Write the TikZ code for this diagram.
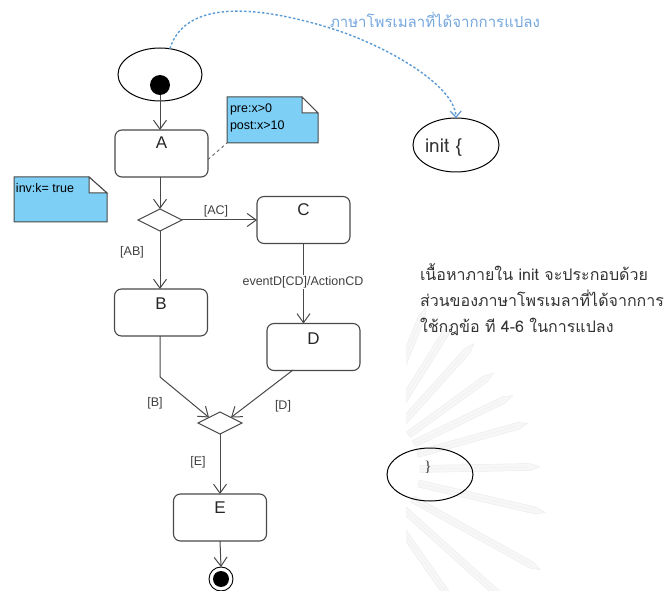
\documentclass[tikz,border=0pt]{standalone}
\usepackage{fontspec}
\setmainfont{Liberation Sans}
\newfontfamily\thaifont[Script=Thai]{Loma}
\newfontfamily\bracefont{Liberation Serif}
\usetikzlibrary{arrows.meta,shapes.geometric,calc}

\definecolor{linegray}{RGB}{72,72,72}
\definecolor{notefill}{RGB}{125,207,245}
\definecolor{linkblue}{RGB}{91,155,213}
\definecolor{textblue}{RGB}{116,166,222}

\begin{document}
\begin{tikzpicture}[x=1pt,y=-1pt,
  every node/.style={inner sep=0pt,outer sep=0pt},
  state/.style={draw=linegray,line width=1.1pt,rounded corners=7pt,
    minimum width=93pt,minimum height=47pt},
  statelbl/.style={font=\fontsize{17}{17}\selectfont,text=black!85},
  guard/.style={font=\fontsize{12.5}{13}\selectfont,text=black!75},
  notetxt/.style={font=\fontsize{12.5}{13}\selectfont,text=black,anchor=west},
  flow/.style={draw=linegray,line width=1pt,
    -{Straight Barb[length=9pt,width=13pt,line width=1pt]}},
  choice/.style={draw=linegray,line width=1pt,diamond,
    minimum width=44pt,minimum height=22pt},
  oval/.style={draw=black,line width=1pt,ellipse},
  notebox/.style={fill=notefill,draw=linegray,line width=1pt},
  thaitxt/.style={font=\thaifont\fontsize{16}{26}\selectfont,text=black!80,anchor=base west},
  ray/.style={fill=black!3,draw=black!7,line width=0.5pt}
]
\useasboundingbox (0,0) rectangle (665,591);

% faint emblem rays in the page background
\begin{scope}
  \clip (406,250) rectangle (665,591);
  \foreach \a/\L in {68/175,58/172,48/170,36/165,26/170,15.6/174,1/180,-13/190,-29/206,-42/215,-55/220}{
    \begin{scope}[shift={(360,470)},rotate=\a]
      \path[ray] (60,-3.5) -- (\L-10,-3.5) -- (\L,0) -- (\L-10,3.5) -- (60,3.5) -- cycle;
      \draw[black!6,line width=0.4pt] (60,0) -- (\L-12,0);
    \end{scope}
  }
\end{scope}

% initial state inside its oval
\node[oval,minimum width=84pt,minimum height=53pt] (start) at (160,74.5) {};
\node[circle,fill=black,minimum size=20pt] (dot) at (160,85) {};

% states
\node[state] (A) at (161.5,153.5) {};
\node[statelbl,anchor=north] (Alab) at ($(A.north)+(0,7)$) {A};
\node[state] (B) at (161,312.5) {};
\node[statelbl,anchor=north] (Blab) at ($(B.north)+(0,9)$) {B};
\node[state] (C) at (303.5,220) {};
\node[statelbl,anchor=north] (Clab) at ($(C.north)+(0,7)$) {C};
\node[state] (D) at (313.5,347) {};
\node[statelbl,anchor=north] (Dlab) at ($(D.north)+(0,9)$) {D};
\node[state] (E) at (220,517.5) {};
\node[statelbl,anchor=north] (Elab) at ($(E.north)+(0,8)$) {E};

% decision and merge
\node[choice] (dec) at (160,220) {};
\node[choice] (merge) at (220,423) {};

% final state
\node[circle,draw=black,line width=0.9pt,minimum size=24pt] (final) at (221,579) {};
\node[circle,fill=black,minimum size=16pt] (finaldot) at (final) {};

% notes
\node[minimum width=91pt,minimum height=46pt] (pre) at (272.5,120) {};
\path[notebox] (pre.north west) -- ($(pre.north east)+(-16,0)$) -- ($(pre.north east)+(0,16)$)
  -- (pre.south east) -- (pre.south west) -- cycle;
\path[fill=white,draw=linegray,line width=1pt] ($(pre.north east)+(-16,0)$) -- ($(pre.north east)+(-16,16)$)
  -- ($(pre.north east)+(0,16)$) -- cycle;
\node[notetxt] (pretxt) at (230,109) {pre:x>0};
\node[notetxt] (posttxt) at (230,126) {post:x>10};

\node[minimum width=93pt,minimum height=45pt] (inv) at (60.5,199.5) {};
\path[notebox] (inv.north west) -- ($(inv.north east)+(-18,0)$) -- ($(inv.north east)+(0,16)$)
  -- (inv.south east) -- (inv.south west) -- cycle;
\path[fill=white,draw=linegray,line width=1pt] ($(inv.north east)+(-18,0)$) -- ($(inv.north east)+(-18,16)$)
  -- ($(inv.north east)+(0,16)$) -- cycle;
\node[notetxt] (invtxt) at (16,188) {inv:k= true};

\draw[linegray!80,line width=1pt,dash pattern=on 3pt off 3pt] ($(A.east)+(0,6)$) -- (pre.south west);

% transitions
\draw[flow] (dot) -- (dot |- A.north);
\draw[flow] (A.south -| dec.north) -- (dec.north);
\draw[flow] (dec.east) -- (C.west);
\draw[flow] (dec.south) -- (dec.south |- B.north);
\draw[flow] (C.south) -- (C.south |- D.north);
\coordinate (bBend) at (160,377);
\coordinate (dOut) at (293,370);
\draw[flow] (B.south -| bBend) -- (bBend) -- (merge.north west);
\draw[flow] (dOut) -- (merge.north east);
\draw[flow] (merge.south) -- (merge.south |- E.north);
\draw[flow] (E.south) -- (final.north);

% guards and triggers
\node[guard] (gAC) at (216,211) {[AC]};
\node[guard] (gAB) at (132,252) {[AB]};
\node[guard,fill=white,inner sep=1pt] (gCD) at (303,282) {eventD[CD]/ActionCD};
\node[guard] (gB) at (155,403) {[B]};
\node[guard] (gD) at (283,406) {[D]};
\node[guard] (gE) at (198,462) {[E]};

% translated Promela side
\node[oval,minimum width=86pt,minimum height=54pt] (initE) at (456,145) {};
\node[font=\thaifont\fontsize{19}{19}\selectfont,text=black!80,anchor=west] (inittxt) at (425,148) {init \{};
\node[oval,minimum width=86pt,minimum height=53pt] (closeE) at (430,474.5) {};
\node[font=\bracefont\fontsize{15}{15}\selectfont,text=black!80] (closetxt) at (428,467) {\}};

\node[font=\thaifont\fontsize{15}{15}\selectfont,text=textblue,anchor=base west] (promela) at (330,28)
  {ภาษาโพรเมลาที่ได้จากการแปลง};
\draw[linkblue,line width=1.4pt,dash pattern=on 2.5pt off 2pt,
  -{Straight Barb[length=6pt,width=11pt,line width=1.2pt]}]
  (start.69) .. controls (185,0) and (255,5) .. (330,28)
  .. controls (385,45) and (455,85) .. (initE.north);

\node[thaitxt] (body1) at (420,281) {เนื้อหาภายใน init จะประกอบด้วย};
\node[thaitxt] (body2) at (420,307) {ส่วนของภาษาโพรเมลาที่ได้จากการ};
\node[thaitxt] (body3) at (420,333) {ใช้กฎข้อ ที 4-6 ในการแปลง};
\end{tikzpicture}
\end{document}
